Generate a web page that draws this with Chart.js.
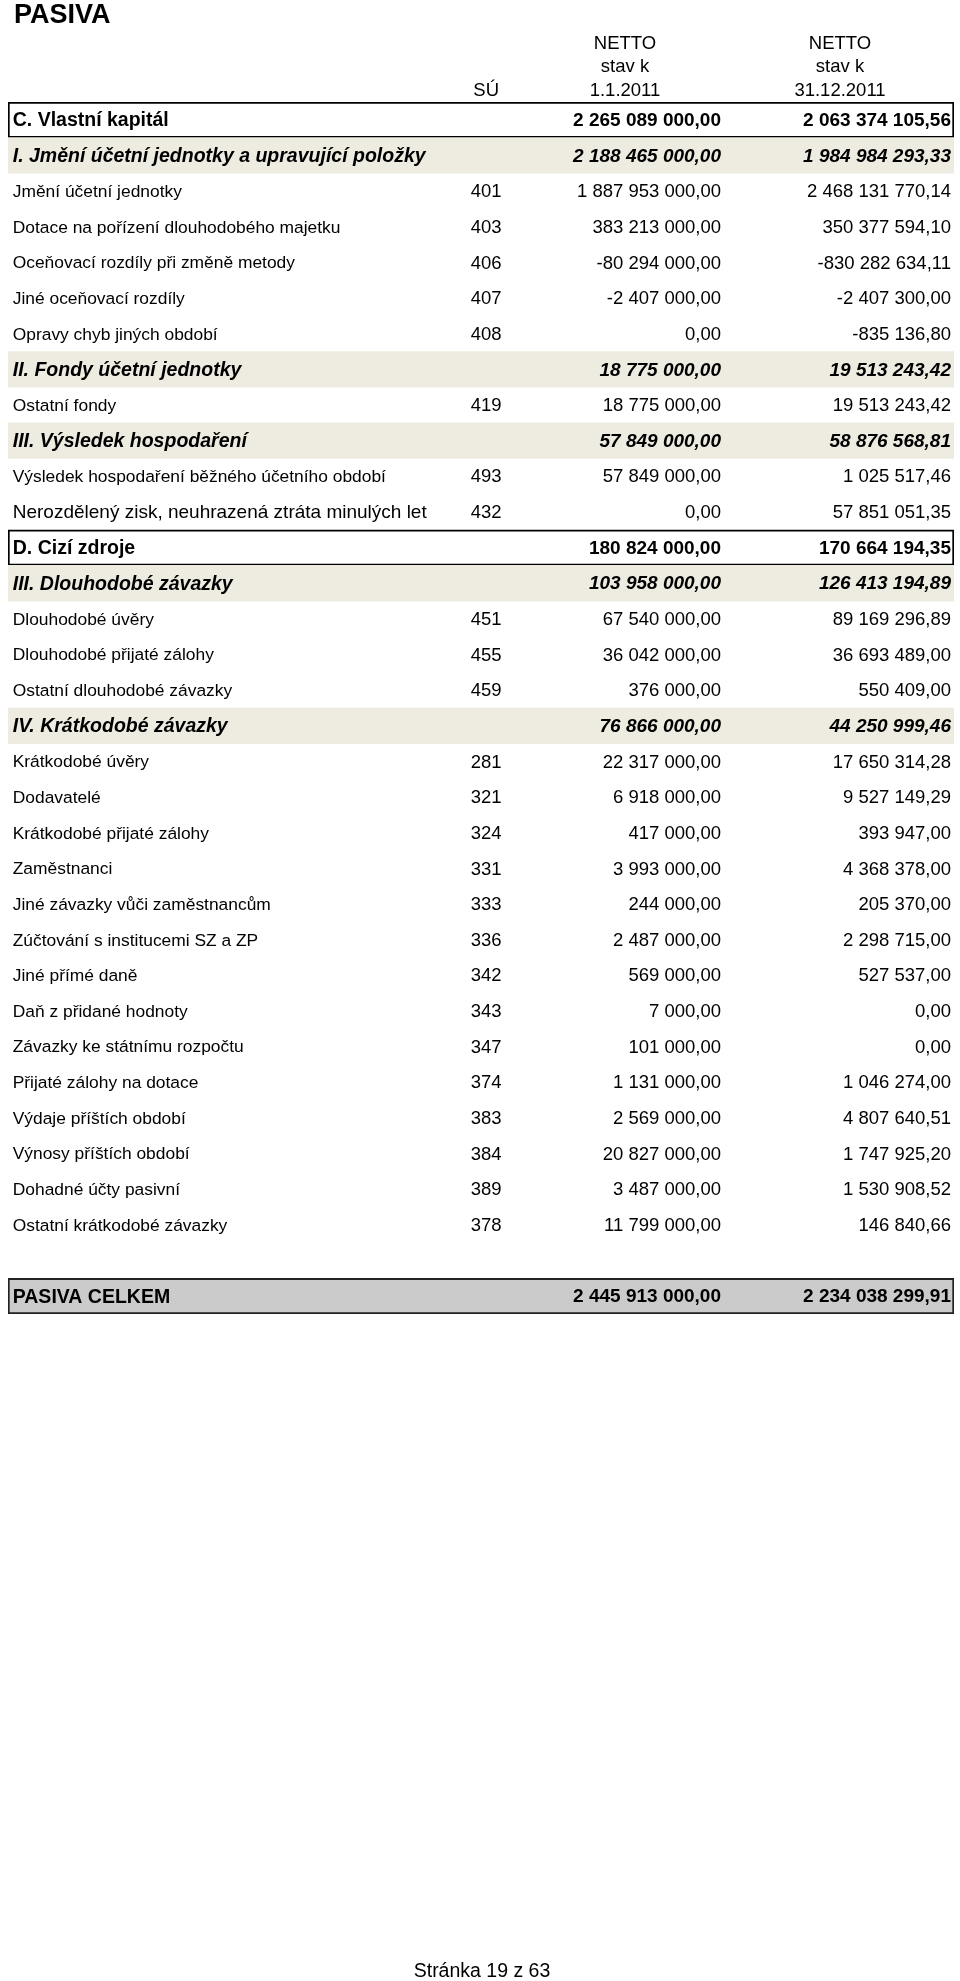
<!DOCTYPE html>
<html>
<head>
<meta charset="utf-8">
<script src="https://cdn.jsdelivr.net/npm/chart.js@4.4.1/dist/chart.umd.min.js"></script>
<style>
  html, body { margin:0; padding:0; background:#fff; }
  #wrap { width:960px; height:1981px; }
</style>
</head>
<body>
<div id="wrap"><canvas id="sheet" width="960" height="1981"></canvas></div>
<script>
// rows of the balance sheet (PASIVA)
const rowLabels = [
  "C. Vlastní kapitál",
  "I. Jmění účetní jednotky a upravující položky",
  "Jmění účetní jednotky",
  "Dotace na pořízení dlouhodobého majetku",
  "Oceňovací rozdíly při změně metody",
  "Jiné oceňovací rozdíly",
  "Opravy chyb jiných období",
  "II. Fondy účetní jednotky",
  "Ostatní fondy",
  "III. Výsledek hospodaření",
  "Výsledek hospodaření běžného účetního období",
  "Nerozdělený zisk, neuhrazená ztráta minulých let",
  "D. Cizí zdroje",
  "III. Dlouhodobé závazky",
  "Dlouhodobé úvěry",
  "Dlouhodobé přijaté zálohy",
  "Ostatní dlouhodobé závazky",
  "IV. Krátkodobé závazky",
  "Krátkodobé úvěry",
  "Dodavatelé",
  "Krátkodobé přijaté zálohy",
  "Zaměstnanci",
  "Jiné závazky vůči zaměstnancům",
  "Zúčtování s institucemi SZ a ZP",
  "Jiné přímé daně",
  "Daň z přidané hodnoty",
  "Závazky ke státnímu rozpočtu",
  "Přijaté zálohy na dotace",
  "Výdaje příštích období",
  "Výnosy příštích období",
  "Dohadné účty pasivní",
  "Ostatní krátkodobé závazky",
  "",
  "PASIVA CELKEM"
]

const rowCodes = [
  "", "", "401", "403", "406", "407", "408", "", "419", "", "493", "432",
  "", "", "451", "455", "459", "", "281", "321", "324", "331", "333", "336",
  "342", "343", "347", "374", "383", "384", "389", "378", "", ""
]

// box = framed total, sec = shaded section, item = plain line
const rowKinds = [
  "box", "sec", "item", "item", "item", "item", "item", "sec", "item", "sec", "item", "big",
  "box", "sec", "item", "item", "item", "sec",
  "item", "item", "item", "item", "item", "item", "item", "item", "item", "item", "item", "item", "item", "item",
  "blank", "total"
]

const stav2011start = [
  2265089000.00, 2188465000.00, 1887953000.00, 383213000.00, -80294000.00, -2407000.00, 0.00,
  18775000.00, 18775000.00, 57849000.00, 57849000.00, 0.00,
  180824000.00, 103958000.00, 67540000.00, 36042000.00, 376000.00, 76866000.00,
  22317000.00, 6918000.00, 417000.00, 3993000.00, 244000.00, 2487000.00, 569000.00,
  7000.00, 101000.00, 1131000.00, 2569000.00, 20827000.00, 3487000.00, 11799000.00,
  null, 2445913000.00
]

const stav2011end = [
  2063374105.56, 1984984293.33, 2468131770.14, 350377594.10, -830282634.11, -2407300.00, -835136.80,
  19513243.42, 19513243.42, 58876568.81, 1025517.46, 57851051.35,
  170664194.35, 126413194.89, 89169296.89, 36693489.00, 550409.00, 44250999.46,
  17650314.28, 9527149.29, 393947.00, 4368378.00, 205370.00, 2298715.00, 527537.00,
  0.00, 0.00, 1046274.00, 4807640.51, 1747925.20, 1530908.52, 146840.66,
  null, 2234038299.91
]

const headCol1 = ["NETTO", "stav k", "1.1.2011"]
const headCol2 = ["NETTO", "stav k", "31.12.2011"]

const FONT = '"Liberation Sans", Arial, sans-serif'

// column anchors as fractions of the x axis
const COL = { label:0.005, code:0.5055, num1:0.7537, num2:0.9968, head1:0.6522, head2:0.8795 }

function fmt(v){
  if(v === null) return ""
  const neg = v < 0
  const parts = Math.abs(v).toFixed(2).split(".")
  const int = parts[0].replace(/\B(?=(\d{3})+(?!\d))/g, " ")
  return (neg ? "-" : "") + int + "," + parts[1]
}

const fill = {
  box:"#ffffff",
  sec:"#eeece1",
  total:"#cbcbcb"
}

const tableText = {
  id:"tableText",
  afterDatasetsDraw(chart){
    const ctx = chart.ctx
    const xs = chart.scales.x
    const ys = chart.scales.y
    const px = f => xs.getPixelForValue(f)
    const top = chart.chartArea.top

    ctx.save()
    ctx.fillStyle = "#000"

    // title
    ctx.font = "bold 27px " + FONT
    ctx.textAlign = "left"
    ctx.textBaseline = "alphabetic"
    ctx.fillText("PASIVA", 14, top - 79)

    // column heads
    ctx.font = "18.5px " + FONT
    ctx.textAlign = "center"
    ctx.textBaseline = "middle"
    headCol1.forEach((t, i) => ctx.fillText(t, px(COL.head1), top - 58 + i * 23.3))
    headCol2.forEach((t, i) => ctx.fillText(t, px(COL.head2), top - 58 + i * 23.3))
    ctx.fillText("SÚ", px(COL.code), top - 11.4)

    rowLabels.forEach((label, i) => {
      const kind = rowKinds[i]
      if(kind === "blank") return
      const y = ys.getPixelForValue(i) + 1
      let lf, nf
      if(kind === "box" || kind === "total"){ lf = "bold 19.5px "; nf = "bold 19px " }
      else if(kind === "sec"){ lf = "italic bold 19.5px "; nf = "italic bold 19px " }
      else if(kind === "big"){ lf = "19px "; nf = "18.5px " }
      else { lf = "17.4px "; nf = "18.5px " }

      ctx.textBaseline = "middle"
      ctx.font = lf + FONT
      ctx.textAlign = "left"
      ctx.fillText(label, px(COL.label), y)

      ctx.font = nf + FONT
      if(rowCodes[i]){
        ctx.textAlign = "center"
        ctx.fillText(rowCodes[i], px(COL.code), y)
      }
      ctx.textAlign = "right"
      ctx.fillText(fmt(stav2011start[i]), px(COL.num1), y)
      ctx.fillText(fmt(stav2011end[i]), px(COL.num2), y)
    })

    // page footer
    ctx.font = "19.5px " + FONT
    ctx.textAlign = "center"
    ctx.textBaseline = "alphabetic"
    ctx.fillText("Stránka 19 z 63", 482, 1977)
    ctx.restore()
  }
}

new Chart(document.getElementById("sheet"), {
  type:"bar",
  data:{
    labels:rowLabels.map((l, i) => i + ":" + l),
    datasets:[{
      data:rowKinds.map(k => fill[k] ? 1 : null),
      backgroundColor:ctx => fill[rowKinds[ctx.dataIndex]] || "transparent",
      borderColor:ctx => rowKinds[ctx.dataIndex] === "total" ? "#222" : "#000",
      borderWidth:ctx => rowKinds[ctx.dataIndex] === "sec" ? 0 : 2,
      borderSkipped:false,
      barPercentage:1,
      categoryPercentage:1
    }]
  },
  options:{
    indexAxis:"y",
    responsive:false,
    animation:false,
    events:[],
    layout:{ padding:{ top:102, bottom:667, left:8, right:6 } },
    plugins:{ legend:{ display:false }, tooltip:{ enabled:false } },
    scales:{
      x:{ type:"linear", min:0, max:1, display:false },
      y:{ type:"category", display:false, grid:{ display:false } }
    }
  },
  plugins:[tableText]
})
</script>
</body>
</html>
